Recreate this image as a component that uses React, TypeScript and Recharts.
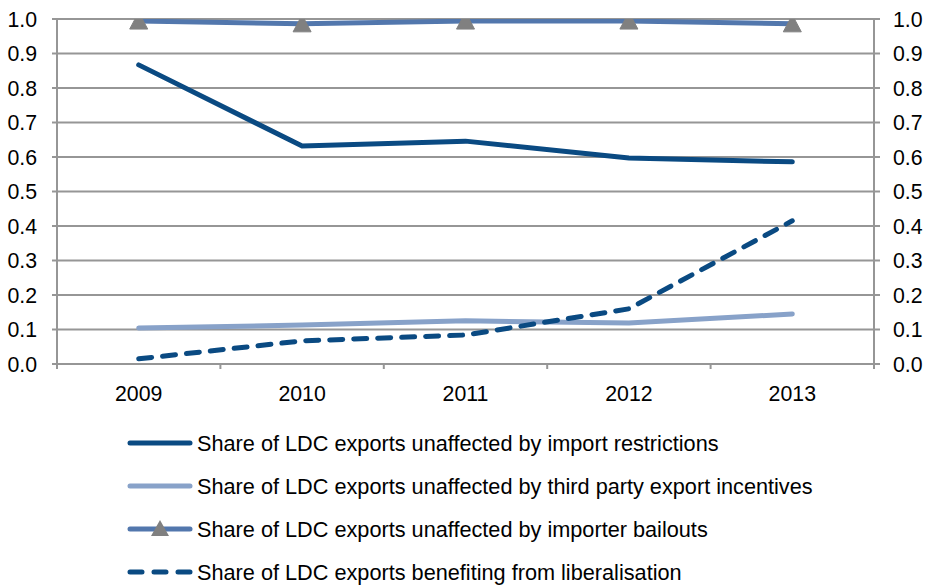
import React from 'react';
import { LineChart, Line, XAxis, YAxis, CartesianGrid } from 'recharts';

const years = ['2009', '2010', '2011', '2012', '2013'];
const importRestrictions = [0.867, 0.632, 0.646, 0.597, 0.586];
const thirdPartyIncentives = [0.104, 0.113, 0.125, 0.119, 0.145];
const importerBailouts = [0.994, 0.986, 0.994, 0.994, 0.986];
const liberalisation = [0.015, 0.067, 0.084, 0.16, 0.415];
const yTicks = [0, 0.1, 0.2, 0.3, 0.4, 0.5, 0.6, 0.7, 0.8, 0.9, 1.0];

const seriesNames = [
  'Share of LDC exports unaffected by import restrictions',
  'Share of LDC exports unaffected by third party export incentives',
  'Share of LDC exports unaffected by importer bailouts',
  'Share of LDC exports benefiting from liberalisation',
];

const data = years.map((y, i) => ({
  year: y,
  imp: importRestrictions[i],
  third: thirdPartyIncentives[i],
  bail: importerBailouts[i],
  lib: liberalisation[i],
}));

const W = 927;
const H = 585;
const LEFT_W = 57;
const RIGHT_W = 53;
const PLOT_W = W - LEFT_W - RIGHT_W;
const HALF = PLOT_W / years.length / 2;
const FONT = '"Liberation Sans", Arial, sans-serif';
const FS = 21.3;
const LFS = 21.7;
const GRID = '#969696';
const DARK = '#0a4a82';
const LIGHT = '#88a2c9';
const MID = '#5277ad';
const MARKER = '#808080';
const DASH = '13 11';
const X_TICK_SIZE = 5;
const X_TICK_MARGIN = 17;

const XTick = (props: any) => {
  const { x, y, payload, index } = props;
  const axisY = y - X_TICK_SIZE - X_TICK_MARGIN;
  const last = index === years.length - 1;
  return (
    <g>
      <line x1={x - HALF} x2={x - HALF} y1={axisY} y2={axisY + X_TICK_SIZE} stroke={GRID} strokeWidth={2} />
      {last && (
        <line x1={x + HALF} x2={x + HALF} y1={axisY} y2={axisY + X_TICK_SIZE} stroke={GRID} strokeWidth={2} />
      )}
      <text x={x} y={y} dy="0.71em" textAnchor="middle" fill="#000" fontSize={FS} fontFamily={FONT}>
        {payload.value}
      </text>
    </g>
  );
};

const Triangle = (props: any) => {
  const { cx, cy } = props;
  if (cx == null || cy == null) return null;
  return (
    <polygon
      points={`${cx},${cy - 9} ${cx - 9},${cy + 8} ${cx + 9},${cy + 8}`}
      fill={MARKER}
      stroke={MARKER}
      strokeWidth={1}
      strokeLinejoin="round"
    />
  );
};

const legendRows = [443, 486, 529, 572];

const LegendBlock = () => (
  <svg width={W} height={H} style={{ position: 'absolute', left: 0, top: 0, pointerEvents: 'none' }}>
    {seriesNames.map((name, i) => {
      const cy = legendRows[i];
      const color = i === 0 ? DARK : i === 1 ? LIGHT : i === 2 ? MID : DARK;
      return (
        <g key={name}>
          <line
            x1={130}
            x2={190}
            y1={cy}
            y2={cy}
            stroke={color}
            strokeWidth={5}
            strokeLinecap="round"
            strokeDasharray={i === 3 ? '12 12' : undefined}
          />
          {i === 2 && (
            <polygon points={`160,${cy - 9} 151,${cy + 7} 169,${cy + 7}`} fill={MARKER} />
          )}
          <text x={197} y={cy} dy="0.35em" fontSize={LFS} fontFamily={FONT} fill="#000">
            {name}
          </text>
        </g>
      );
    })}
  </svg>
);

const yFmt = (v: number) => v.toFixed(1);

export default function App() {
  return (
    <div style={{ position: 'absolute', left: 0, top: 0, width: W, height: H, background: '#fff' }}>
      <LineChart width={W} height={H} data={data} margin={{ top: 19, right: 0, left: 0, bottom: 181 }}>
        <CartesianGrid yAxisId="left" vertical={false} stroke={GRID} strokeWidth={2} />
        <XAxis
          dataKey="year"
          height={40}
          padding={{ left: HALF, right: HALF }}
          axisLine={{ stroke: GRID, strokeWidth: 2 }}
          tickLine={false}
          tickSize={X_TICK_SIZE}
          tickMargin={X_TICK_MARGIN}
          tick={<XTick />}
          interval={0}
        />
        <YAxis
          yAxisId="left"
          width={LEFT_W}
          domain={[0, 1]}
          allowDataOverflow
          ticks={yTicks}
          interval={0}
          tickFormatter={yFmt}
          axisLine={{ stroke: GRID, strokeWidth: 2 }}
          tickLine={{ stroke: GRID, strokeWidth: 2 }}
          tickSize={5}
          tickMargin={15}
          tick={{ fill: '#000', fontSize: FS, fontFamily: FONT }}
        />
        <YAxis
          yAxisId="right"
          orientation="right"
          width={RIGHT_W}
          domain={[0, 1]}
          allowDataOverflow
          ticks={yTicks}
          interval={0}
          tickFormatter={yFmt}
          axisLine={{ stroke: GRID, strokeWidth: 2 }}
          tickLine={{ stroke: GRID, strokeWidth: 2 }}
          tickSize={6}
          tickMargin={13}
          tick={{ fill: '#000', fontSize: FS, fontFamily: FONT, textAnchor: 'start' }}
        />
        <Line yAxisId="right" dataKey="third" stroke={LIGHT} strokeWidth={5} strokeLinecap="round" dot={false} activeDot={false} isAnimationActive={false} />
        <Line yAxisId="right" dataKey="lib" stroke={DARK} strokeWidth={5} strokeLinecap="round" strokeDasharray={DASH} dot={false} activeDot={false} isAnimationActive={false} />
        <Line yAxisId="left" dataKey="imp" stroke={DARK} strokeWidth={5} strokeLinecap="round" dot={false} activeDot={false} isAnimationActive={false} />
        <Line yAxisId="left" dataKey="bail" stroke={MID} strokeWidth={5} strokeLinecap="round" dot={<Triangle />} activeDot={false} isAnimationActive={false} />
      </LineChart>
      <LegendBlock />
    </div>
  );
}
